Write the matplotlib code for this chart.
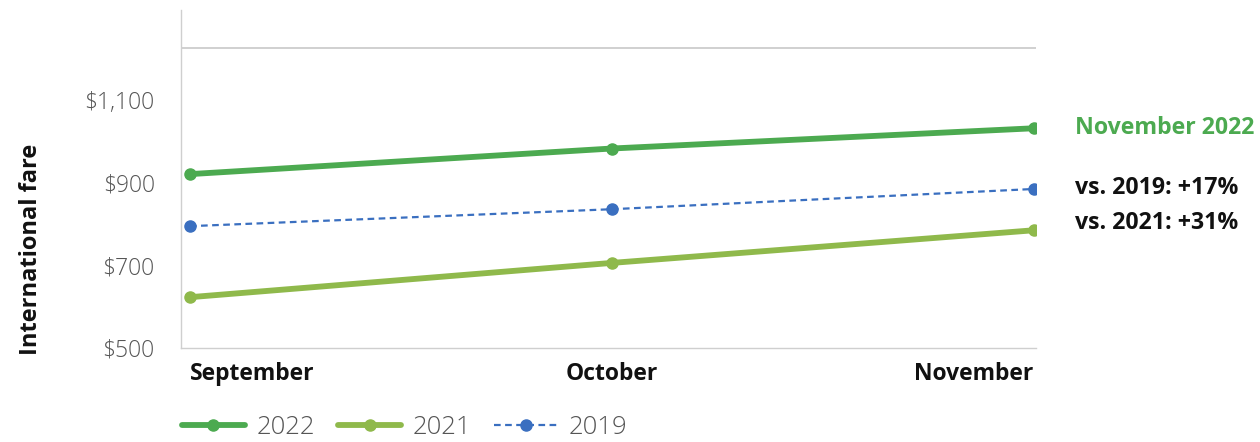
import matplotlib
matplotlib.use("Agg")
import matplotlib.pyplot as plt
from matplotlib.ticker import FuncFormatter

months = ["September", "October", "November"]
fare_2022 = [921, 983, 1032]
fare_2021 = [623, 706, 785]
fare_2019 = [795, 836, 885]
yticks = [500, 700, 900, 1100]
annot_title = "November 2022"
annot_2019 = "vs. 2019: +17%"
annot_2021 = "vs. 2021: +31%"

plt.rcParams['font.family'] = ['Open Sans', 'DejaVu Sans']

c2022 = "#4caa50"
c2021 = "#8fb94b"
c2019 = "#3a6fc0"

fig = plt.figure(figsize=(12.6, 4.42), dpi=100)
ax = fig.add_axes([0.1437, 0.2127, 0.822 - 0.1437, 0.977 - 0.2127])

x = list(range(len(months)))
ax.plot(x, fare_2022, color=c2022, lw=4.2, marker="o", ms=8, label="2022", solid_capstyle="round")
ax.plot(x, fare_2021, color=c2021, lw=4.2, marker="o", ms=8, label="2021", solid_capstyle="round")
ax.plot(x, fare_2019, color=c2019, lw=1.6, ls=(0, (3, 2)), marker="o", ms=8, label="2019")

ax.set_xlim(-0.021, 2.005)
ax.set_ylim(500, 1318)
ax.axhline(1226, color="#c8c8c8", lw=1.2, zorder=0)

for s in ["top", "right"]:
    ax.spines[s].set_visible(False)
for s in ["left", "bottom"]:
    ax.spines[s].set_color("#cfcfcf")
    ax.spines[s].set_linewidth(1.0)

ax.set_yticks(yticks)
ax.yaxis.set_major_formatter(FuncFormatter(lambda v, p: f"${v:,.0f}"))
ax.tick_params(axis="y", length=0, pad=19, labelsize=16.5, labelcolor="#555555")
for t in ax.get_yticklabels():
    t.set_fontweight("light")
ax.set_xticks(x)
ax.set_xticklabels(months, fontsize=16.5, fontweight="bold", color="#111111")
ax.tick_params(axis="x", length=0, pad=10)
labs = ax.get_xticklabels()
labs[0].set_ha("left")
labs[-1].set_ha("right")

ax.set_ylabel("International fare", fontsize=17, fontweight="bold", color="#111111")
ax.yaxis.set_label_coords(-0.161, 0.293)

ax.annotate(annot_title, xy=(x[-1], fare_2022[-1]), xytext=(29.5, 0), textcoords="offset points",
            fontsize=16.7, fontweight="bold", color=c2022, va="center", annotation_clip=False)
ax.annotate(annot_2019, xy=(x[-1], fare_2019[-1]), xytext=(29.5, 1), textcoords="offset points",
            fontsize=16.7, fontweight="bold", color="#111111", va="center", annotation_clip=False)
ax.annotate(annot_2021, xy=(x[-1], fare_2021[-1]), xytext=(29.5, 5), textcoords="offset points",
            fontsize=16.7, fontweight="bold", color="#111111", va="center", annotation_clip=False)

leg = fig.legend(loc="center left", bbox_to_anchor=(0.1444, 0.032), ncol=3, frameon=False,
                 fontsize=18.5, handlelength=2.45, columnspacing=0.9, handletextpad=0.45,
                 borderpad=0, borderaxespad=0)
for t in leg.get_texts():
    t.set_color("#555555")
    t.set_fontweight("light")

fig.savefig("out.png", dpi=100, facecolor="white")
